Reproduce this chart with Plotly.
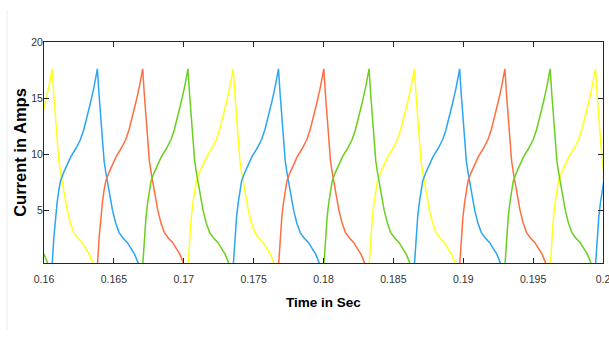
import plotly.graph_objects as go

# One current pulse of a phase winding: rise while the phase is switched on,
# then the demagnetising fall after turn-off (seconds relative to the edge, amps).
RISE_T = [0.0, 0.00012, 0.00024, 0.00036, 0.00048, 0.00060, 0.00084, 0.00110,
          0.00135, 0.00170, 0.00203, 0.00227, 0.00250, 0.00275, 0.00300, 0.00324]
RISE_I = [0.0, 2.5, 4.4, 5.7, 6.8, 7.6, 8.4, 9.2,
          9.8, 10.5, 11.3, 12.2, 13.3, 14.6, 16.0, 17.6]
FALL_T = [0.00012, 0.00024, 0.00036, 0.00048, 0.00060, 0.00074, 0.00090, 0.00108,
          0.00130, 0.00155, 0.00185, 0.00215, 0.00240, 0.00265, 0.00285, 0.00300]
FALL_I = [15.3, 13.0, 10.8, 9.4, 8.4, 7.4, 6.2, 5.0,
          3.9, 3.0, 2.5, 2.1, 1.6, 1.1, 0.5, 0.0]

# Turn-on instants of each phase (s)
ON_YELLOW = [0.15734, 0.17030, 0.18326, 0.19622]
ON_BLUE = [0.16058, 0.17354, 0.18650, 0.19946]
ON_ORANGE = [0.16382, 0.17678, 0.18974]
ON_GREEN = [0.15410, 0.16706, 0.18002, 0.19298]

PHASES = [
    ("Phase A", ON_YELLOW, "#FFFF1A"),
    ("Phase B", ON_BLUE, "#2AA6F2"),
    ("Phase C", ON_ORANGE, "#FF6E40"),
    ("Phase D", ON_GREEN, "#6ACF1E"),
]

X_TICKS = [0.16, 0.165, 0.17, 0.175, 0.18, 0.185, 0.19, 0.195, 0.2]
X_TICK_TEXT = ["0.16", "0.165", "0.17", "0.175", "0.18", "0.185", "0.19", "0.195", "0.2"]
Y_TICKS = [5, 10, 15, 20]

T_START, T_END = 0.15, 0.21


def phase_series(starts):
    t, i = [T_START], [0.0]
    for s in starts:
        t.append(s)
        i.append(0.0)
        peak = s + RISE_T[-1]
        t.extend(s + dt for dt in RISE_T[1:])
        i.extend(RISE_I[1:])
        t.extend(peak + dt for dt in FALL_T)
        i.extend(FALL_I)
    t.append(T_END)
    i.append(0.0)
    return t, i


FONT = "Liberation Sans, Arial, sans-serif"
AX = "#262626"

fig = go.Figure()
for name, starts, color in PHASES:
    t, i = phase_series(starts)
    fig.add_trace(go.Scatter(x=t, y=i, mode="lines", name=name,
                             line=dict(color=color, width=1.5),
                             showlegend=False))

fig.update_layout(
    width=609, height=338,
    margin=dict(l=44, r=6, t=42, b=75),
    paper_bgcolor="white", plot_bgcolor="white",
    font=dict(family=FONT, color=AX, size=10.5),
    xaxis=dict(
        range=[0.16 - 1e-7, 0.2 + 1e-7], tickvals=X_TICKS, ticktext=X_TICK_TEXT,
        showgrid=False, zeroline=False, automargin=False,
        showline=True, linecolor=AX, linewidth=1, mirror="ticks",
        ticks="inside", ticklen=5, tickcolor=AX, tickwidth=1,
        ticklabelstandoff=6, ticklabeloverflow="allow",
        tickfont=dict(size=10.5, color="#333333"),
        title=dict(text="<b>Time in Sec</b>", standoff=13,
                   font=dict(size=13.5, color="black", family=FONT)),
    ),
    yaxis=dict(
        range=[0.29, 20], tickvals=Y_TICKS,
        showgrid=False, zeroline=False, automargin=False,
        showline=True, linecolor=AX, linewidth=1, mirror="ticks",
        ticks="inside", ticklen=5, tickcolor=AX, tickwidth=1,
        ticklabelstandoff=-2,
        tickfont=dict(size=10.5, color="#333333"),
        title=dict(text="<b>Current in Amps</b>", standoff=0,
                   font=dict(size=16.5, color="black", family=FONT)),
    ),
    shapes=[dict(type="line", xref="paper", yref="paper",
                 x0=(7 - 44) / 559, x1=(7 - 44) / 559,
                 y0=(263 - 10) / 221, y1=(263 - 330) / 221,
                 line=dict(color="#ececec", width=1))],
)

fig.write_html("out.html")
